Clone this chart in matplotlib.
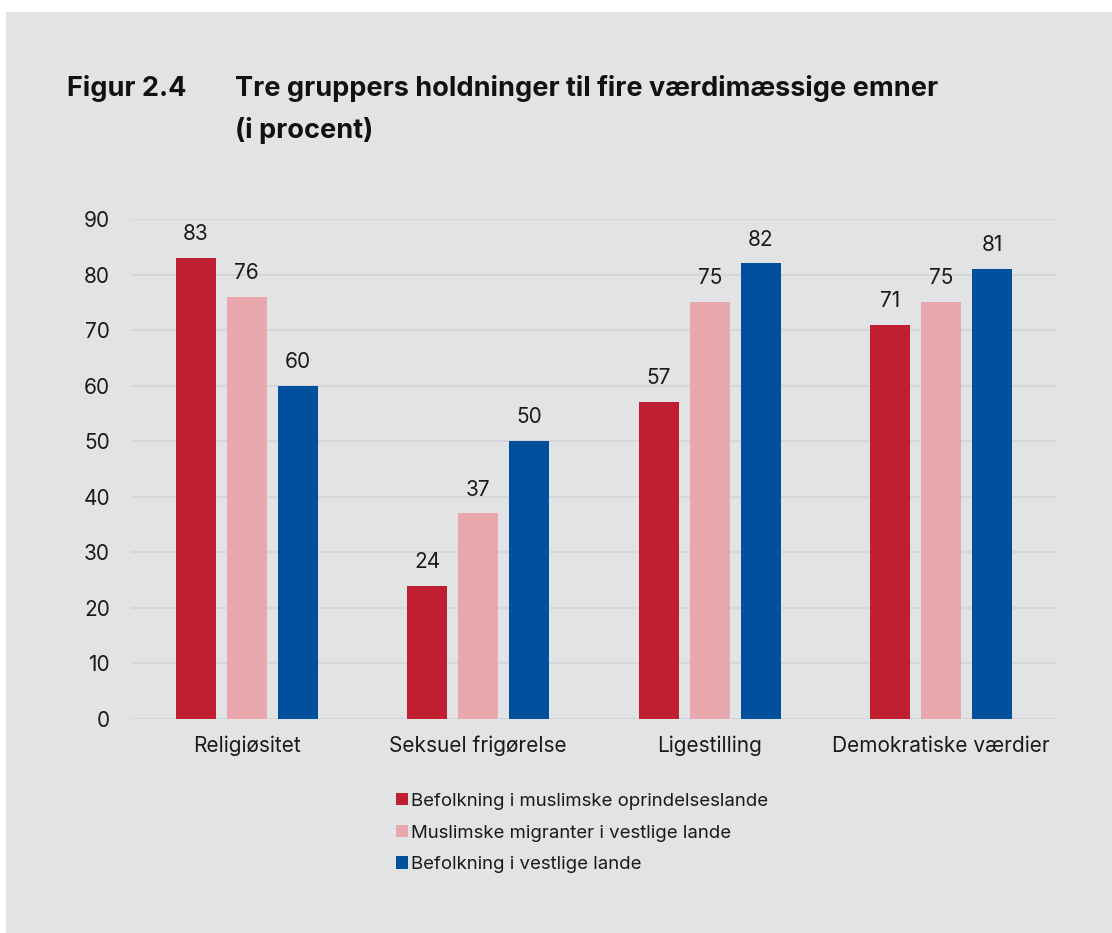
import matplotlib
matplotlib.use("Agg")
import matplotlib.pyplot as plt
import numpy as np
from matplotlib.patches import Rectangle

categories = ["Religiøsitet", "Seksuel frigørelse", "Ligestilling", "Demokratiske værdier"]
series_names = ["Befolkning i muslimske oprindelseslande",
                "Muslimske migranter i vestlige lande",
                "Befolkning i vestlige lande"]
muslim_countries = [83, 24, 57, 71]
muslim_migrants = [76, 37, 75, 75]
western = [60, 50, 82, 81]
yticks = [0, 10, 20, 30, 40, 50, 60, 70, 80, 90]

colors = ["#C01F32", "#E8A8AD", "#00509D"]
bg = "#E2E3E5"
W, H = 1112, 933

plt.rcParams['font.family'] = ['Inter', 'DejaVu Sans']

fig = plt.figure(figsize=(W / 100, H / 100), dpi=100)
fig.patch.set_facecolor("white")
fig.add_artist(Rectangle((6 / W, 0), 1 - 6 / W, 1 - 12 / H, transform=fig.transFigure,
                         facecolor=bg, edgecolor="none", zorder=0))

left, right, top, bottom = 131, 1057, 219, 719
ax = fig.add_axes([left / W, 1 - bottom / H, (right - left) / W, (bottom - top) / H])
ax.set_facecolor(bg)
ax.patch.set_alpha(0)

x = np.arange(len(categories))
bw = 40 / 231.5
off = 51 / 231.5
for i, vals in enumerate([muslim_countries, muslim_migrants, western]):
    pos = x + (i - 1) * off
    ax.bar(pos, vals, width=bw, color=colors[i], zorder=3, label=series_names[i])
    for p, v in zip(pos, vals):
        ax.text(p, v + 4.3, str(v), ha="center", va="center", fontsize=15, color="#1a1a1a")

ax.set_xlim(-0.5, 3.5)
ax.set_ylim(0, 90)
ax.set_yticks(yticks)
ax.set_yticklabels([str(t) for t in yticks], fontsize=15, color="#1a1a1a")
ax.set_xticks(x)
ax.set_xticklabels(categories, fontsize=15, color="#1a1a1a")
ax.tick_params(axis="both", length=0)
ax.tick_params(axis="y", pad=15)
ax.tick_params(axis="x", pad=12)
ax.grid(axis="y", color="#D5D6D9", linewidth=1.5, zorder=0)
ax.set_axisbelow(True)
for s in ax.spines.values():
    s.set_visible(False)

handles, labels = ax.get_legend_handles_labels()
leg = fig.legend(handles, labels, loc="upper left", bbox_to_anchor=(396 / W, 1 - 793 / H),
                 frameon=False, fontsize=13.4, handlelength=0.62, handleheight=0.62,
                 handletextpad=0.2, labelspacing=0.78, borderaxespad=0, borderpad=0)
for t in leg.get_texts():
    t.set_color("#1a1a1a")

fig.text(67 / W, 1 - 89 / H, "Figur 2.4", fontsize=19.5, fontweight="bold", va="center", ha="left",
         color="#111111")
fig.text(235 / W, 1 - 89 / H, "Tre gruppers holdninger til fire værdimæssige emner", fontsize=19.5,
         fontweight="bold", va="center", ha="left", color="#111111")
fig.text(235 / W, 1 - 131 / H, "(i procent)", fontsize=19.5, fontweight="bold", va="center", ha="left",
         color="#111111")

fig.savefig("out.png", dpi=100, facecolor=fig.get_facecolor())
